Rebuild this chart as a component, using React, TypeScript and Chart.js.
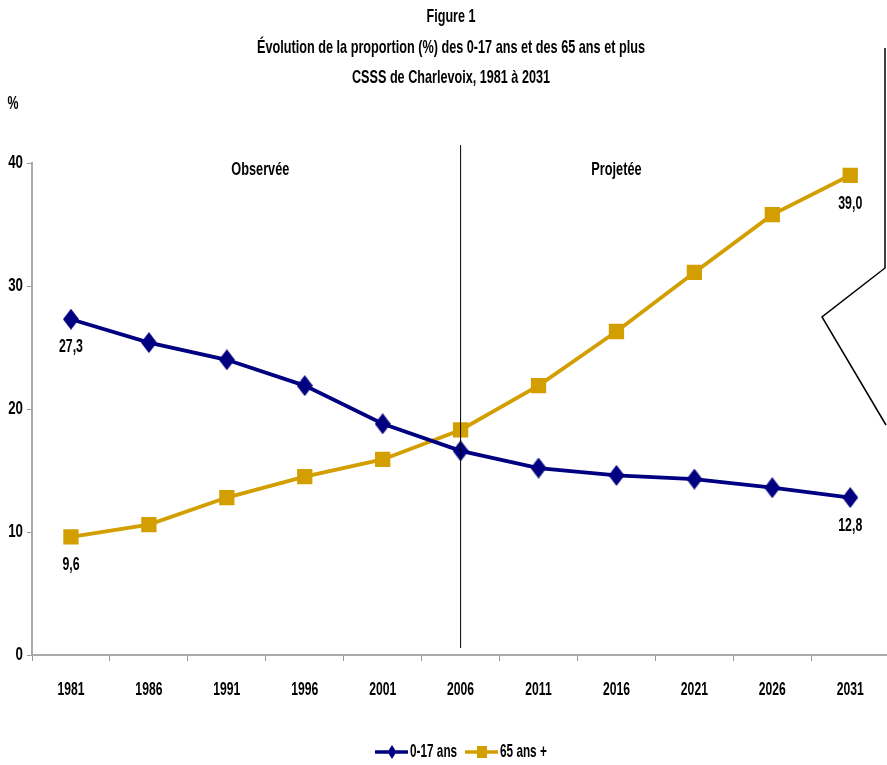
import React, { useEffect, useRef } from "react";
import { Chart, registerables } from "chart.js";
Chart.register(...registerables);

const years = ["1981", "1986", "1991", "1996", "2001", "2006", "2011", "2016", "2021", "2026", "2031"];
const youth = [27.3, 25.4, 24.0, 21.9, 18.8, 16.6, 15.2, 14.6, 14.3, 13.6, 12.8];
const seniors = [9.6, 10.6, 12.8, 14.5, 15.9, 18.3, 21.9, 26.3, 31.1, 35.8, 39.0];
const seriesNames = ["0-17 ans", "65 ans +"];
const titleLines = [
  "Figure 1",
  "Évolution de la proportion (%) des 0-17 ans et des 65 ans et plus",
  "CSSS de Charlevoix, 1981 à 2031",
];
const titleWidths = [49, 388, 198];
const periodLabels = ["Observée", "Projetée"];
const periodIndex = [2.43, 7.0];
const splitYear = "2006";
const labeledIdx = [0, 10];
const yMin = 0;
const yMax = 40;
const yStep = 10;

const NAVY = "#000080";
const GOLD = "#D29E00";
const FONT = '"Liberation Sans", Arial, sans-serif';
const SIZE = 19;
const SX = 0.65;
const fmt = (v: number) => v.toFixed(1).replace(".", ",");

function narrow(ctx: CanvasRenderingContext2D, text: string, x: number, y: number, align: "left" | "center" | "right", sx = SX) {
  ctx.save();
  ctx.font = `bold ${SIZE}px ${FONT}`;
  ctx.textBaseline = "middle";
  ctx.textAlign = align;
  ctx.fillStyle = "#000";
  ctx.translate(x, y);
  ctx.scale(sx, 1);
  ctx.fillText(text, 0, 0);
  ctx.restore();
}

function makeDiamond(w: number, h: number, color: string) {
  const c = document.createElement("canvas");
  c.width = w;
  c.height = h;
  const g = c.getContext("2d")!;
  g.fillStyle = color;
  g.beginPath();
  g.moveTo(w / 2, 0);
  g.lineTo(w, h / 2);
  g.lineTo(w / 2, h);
  g.lineTo(0, h / 2);
  g.closePath();
  g.fill();
  return c;
}

const decorPlugin = {
  id: "decor",
  afterDraw(chart: any) {
    const ctx: CanvasRenderingContext2D = chart.ctx;
    const x = chart.scales.x;
    const y = chart.scales.y;
    ctx.save();
    ctx.font = `bold ${SIZE}px ${FONT}`;
    titleLines.forEach((t, i) => {
      const w = ctx.measureText(t).width;
      narrow(ctx, t, 451, 17 + i * 30.5, "center", titleWidths[i] ? titleWidths[i] / w : SX);
    });
    narrow(ctx, "%", 13, 104, "center");
    x.ticks.forEach((t: any, i: number) => {
      narrow(ctx, String(x.getLabelForValue(t.value)), x.getPixelForTick(i), 690, "center", 0.64);
    });
    y.ticks.forEach((t: any, i: number) => {
      narrow(ctx, String(t.value), 23, y.getPixelForTick(i), "right", 0.7);
    });
    periodLabels.forEach((t, i) => narrow(ctx, t, x.getPixelForValue(periodIndex[i]), 170, "center", 0.67));
    const sxp = x.getPixelForValue(years.indexOf(splitYear));
    ctx.strokeStyle = "#000";
    ctx.lineWidth = 1;
    ctx.beginPath();
    ctx.moveTo(sxp, 145);
    ctx.lineTo(sxp, 648);
    ctx.stroke();
    [youth, seniors].forEach((arr) => {
      labeledIdx.forEach((i) => {
        const px = x.getPixelForValue(i);
        const py = y.getPixelForValue(arr[i]);
        narrow(ctx, fmt(arr[i]), px, py + 28, "center", 0.65);
      });
    });
    ctx.strokeStyle = "#000";
    ctx.lineWidth = 1.5;
    ctx.beginPath();
    ctx.moveTo(885, 48);
    ctx.lineTo(885, 268);
    ctx.lineTo(822, 317);
    ctx.lineTo(886, 425);
    ctx.stroke();
    const ly = 752;
    const drawItem = (x0: number, color: string, style: string, text: string) => {
      ctx.strokeStyle = color;
      ctx.fillStyle = color;
      ctx.lineWidth = 3.5;
      ctx.beginPath();
      ctx.moveTo(x0, ly);
      ctx.lineTo(x0 + 33, ly);
      ctx.stroke();
      const cx = x0 + 17;
      ctx.beginPath();
      if (style === "diamond") {
        ctx.moveTo(cx, ly - 7);
        ctx.lineTo(cx + 4.5, ly);
        ctx.lineTo(cx, ly + 7);
        ctx.lineTo(cx - 4.5, ly);
        ctx.closePath();
      } else {
        ctx.rect(cx - 5, ly - 6, 10, 12);
      }
      ctx.fill();
      narrow(ctx, text, x0 + 35, ly, "left", 0.62);
    };
    drawItem(375, NAVY, "diamond", seriesNames[0]);
    drawItem(465, GOLD, "square", seriesNames[1]);
    ctx.restore();
  },
};

export default function App() {
  const ref = useRef<HTMLCanvasElement>(null);
  useEffect(() => {
    if (!ref.current) return;
    const diamond = makeDiamond(16, 21, NAVY);
    const chart = new Chart(ref.current, {
      type: "line",
      data: {
        labels: years,
        datasets: [
          {
            label: seriesNames[0],
            data: youth,
            borderColor: NAVY,
            backgroundColor: NAVY,
            borderWidth: 3.8,
            pointStyle: diamond,
            pointRadius: 9,
            pointBorderWidth: 0,
            tension: 0,
          },
          {
            label: seriesNames[1],
            data: seniors,
            borderColor: GOLD,
            backgroundColor: GOLD,
            borderWidth: 3.8,
            pointStyle: "rect",
            pointRadius: 10.8,
            pointBorderWidth: 0,
            tension: 0,
          },
        ],
      },
      options: {
        animation: false,
        responsive: false,
        devicePixelRatio: 1,
        layout: { padding: { top: 163, left: 0, right: 7, bottom: 0 } },
        plugins: { legend: { display: false }, title: { display: false }, tooltip: { enabled: false } },
        scales: {
          x: {
            offset: true,
            grid: { offset: true, drawOnChartArea: false, tickLength: 6, color: "#999", lineWidth: 1 },
            border: { color: "#aaa", width: 2 },
            ticks: { color: "rgba(0,0,0,0)", font: { family: FONT, size: 14, weight: "bold" }, maxRotation: 0, autoSkip: false },
            afterFit: (s: any) => { s.height = 110; },
          },
          y: {
            min: yMin,
            max: yMax,
            ticks: { stepSize: yStep, color: "rgba(0,0,0,0)", font: { family: FONT, size: 14, weight: "bold" } },
            grid: { drawOnChartArea: false, tickLength: 5, color: "#999" },
            border: { color: "#aaa", width: 2 },
            afterFit: (s: any) => { s.width = 32; },
          },
        },
      },
      plugins: [decorPlugin],
    } as any);
    return () => chart.destroy();
  }, []);
  return (
    <div style={{ position: "fixed", left: 0, top: 0, width: 887, height: 765, overflow: "hidden", background: "#fff" }}>
      <canvas ref={ref} width={900} height={765} style={{ width: 900, height: 765, display: "block" }} />
    </div>
  );
}
